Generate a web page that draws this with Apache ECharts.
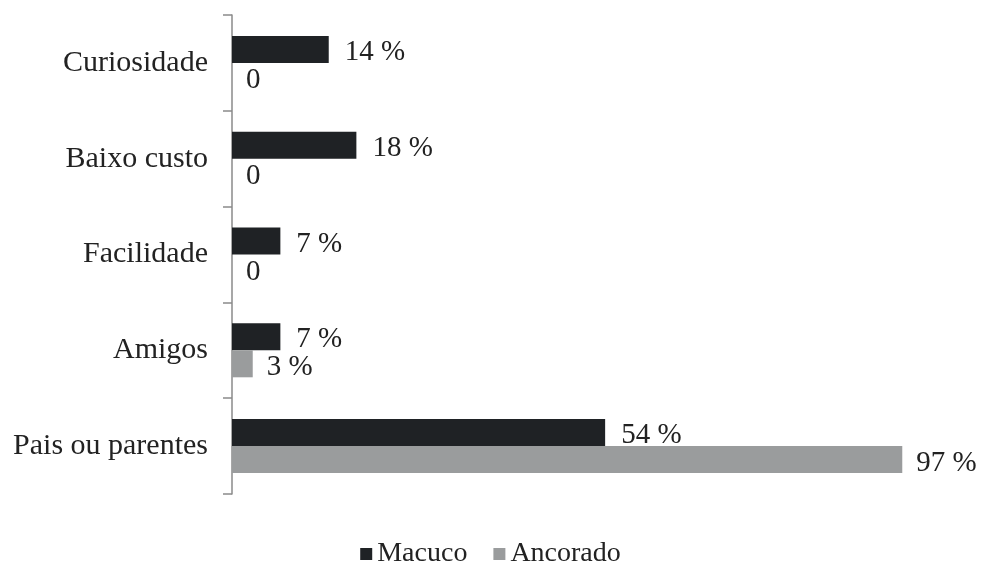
<!DOCTYPE html>
<html>
<head>
<meta charset="utf-8">
<script src="https://cdn.jsdelivr.net/npm/echarts@6/dist/echarts.min.js"></script>
<style>
  html, body { margin: 0; padding: 0; background: #fff; }
  #chart { width: 981px; height: 563px; }
</style>
</head>
<body>
<div id="chart"></div>
<script>
// Motivations, top to bottom
const categories = ['Curiosidade', 'Baixo custo', 'Facilidade', 'Amigos', 'Pais ou parentes'];
const macuco = [14, 18, 7, 7, 54];
const ancorado = [0, 0, 0, 3, 97];

const serif = '"Liberation Serif", "DejaVu Serif", serif';
const labelFmt = p => (p.value === 0 ? '0' : p.value + ' %');

const chart = echarts.init(document.getElementById('chart'), null, { renderer: 'canvas' });
chart.setOption({
  animation: false,
  backgroundColor: '#ffffff',
  grid: { left: 232, right: 58, top: 15, bottom: 69, containLabel: false },
  xAxis: {
    type: 'value', min: 0, max: 100,
    show: false
  },
  yAxis: {
    type: 'category',
    data: categories,
    inverse: true,
    axisLine: { show: true, lineStyle: { color: '#8a8a8a', width: 1.5 } },
    axisTick: { show: true, length: 9, lineStyle: { color: '#8a8a8a', width: 1.5 } },
    axisLabel: { fontFamily: serif, fontSize: 30, color: '#222', margin: 24, padding: [4, 0, 0, 0] }
  },
  legend: {
    left: 'center',
    top: 535,
    itemWidth: 12, itemHeight: 12, itemGap: 26,
    icon: 'rect',
    textStyle: { fontFamily: serif, fontSize: 28, color: '#222', padding: [2, 0, 0, 0] },
    data: ['Macuco', 'Ancorado']
  },
  series: [
    {
      name: 'Macuco', type: 'bar', data: macuco,
      barWidth: 27, barGap: '0%', barCategoryGap: '43%',
      itemStyle: { color: '#1f2225' },
      label: { show: true, position: 'right', distance: 16, offset: [0, 3],
               formatter: labelFmt, fontFamily: serif, fontSize: 29, color: '#222' }
    },
    {
      name: 'Ancorado', type: 'bar', data: ancorado,
      barWidth: 27,
      itemStyle: { color: '#9a9c9d' },
      label: { show: true, position: 'right', distance: 14, offset: [0, 4],
               formatter: labelFmt, fontFamily: serif, fontSize: 29, color: '#222' }
    }
  ]
});
</script>
</body>
</html>
